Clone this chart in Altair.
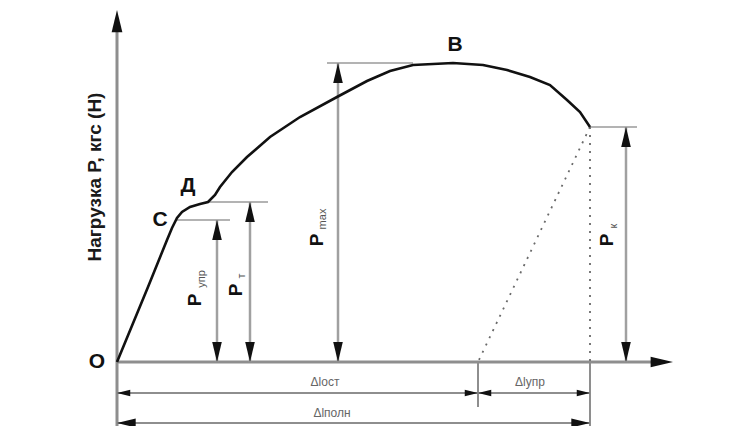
import altair as alt
import pandas as pd

# ---- data (elongation units along x, load units along y; origin at point O) ----
curve_x = [0, 31, 50, 55, 60, 65, 73, 83, 91, 98, 103, 115, 130, 153, 183, 220, 250,
           273, 296, 336, 366, 390, 413, 433, 450, 463, 473]
curve_y = [0, 75, 122, 134, 144, 150, 155, 158, 160, 167, 175, 190, 205, 225, 245, 265,
           281, 291, 297, 299, 297, 292, 285, 277, 262, 250, 235]

load_sub = ["упр", "т", "max", "к"]          # P_упр, P_т, P_max, P_к
load_x = [100, 133, 221, 509]                # where each load is dimensioned
load_level = [142, 160, 299, 235]            # load value
tick_from = [60, 91, 210, 473]               # extension line start (on curve)
tick_to = [113, 151, 296, 520]               # extension line end
p_label_x = [78, 119, 200, 490]
p_label_y = [62, 72, 122, 122]
sub_label_x = [85, 125, 206, 497]
sub_label_y = [83, 86, 143, 136]

point_names = ["O", "C", "Д", "В"]
point_x = [-20, 43, 71, 338]
point_y = [0, 142, 176, 317]

y_axis_top = 352
x_axis_end = 556
residual_end = 361                           # Δl_ост
total_end = 473                              # Δl_полн
dim_rows = [-31, -61]
elong_labels = ["Δlост", "Δlупр", "Δlполн"]
elong_label_x = [208, 413, 215]
elong_label_y = [-20, -20, -51]

xs = alt.Scale(domain=[-109, 609], nice=False, zero=False)
ys = alt.Scale(domain=[-64, 354], nice=False, zero=False)


def X():
    return alt.X("x:Q", scale=xs, axis=None)


def Y():
    return alt.Y("y:Q", scale=ys, axis=None)


def enc_rule():
    return dict(x=X(), x2="x2:Q", y=Y(), y2="y2:Q")


GRAY = "#8e8e8e"

# axes
axes_df = pd.DataFrame({
    "x": [0, 0], "x2": [0, x_axis_end - 10],
    "y": [-80, 0], "y2": [y_axis_top - 10, 0]})
axes = alt.Chart(axes_df).mark_rule(color=GRAY, strokeWidth=3).encode(**enc_rule())

# load dimension lines
vd_df = pd.DataFrame({"x": load_x, "x2": load_x, "y": [0] * 4, "y2": load_level})
vdims = alt.Chart(vd_df).mark_rule(color="#a0a0a0", strokeWidth=2.5).encode(**enc_rule())

# extension ticks
tk_df = pd.DataFrame({"x": tick_from, "x2": tick_to, "y": load_level, "y2": load_level})
ticks = alt.Chart(tk_df).mark_rule(color="#9a9a9a", strokeWidth=1.6).encode(**enc_rule())

# elongation dimension lines
hd_df = pd.DataFrame({
    "x": [0, 0, residual_end, total_end], "x2": [total_end, total_end, residual_end, total_end],
    "y": [dim_rows[0], dim_rows[1], 0, 0], "y2": [dim_rows[0], dim_rows[1], dim_rows[0] - 14, -80]})
hdims = alt.Chart(hd_df).mark_rule(color=GRAY, strokeWidth=2).encode(**enc_rule())

# unloading (dotted) lines
dot_df = pd.DataFrame({"x": [total_end, total_end], "x2": [residual_end, total_end],
                       "y": [load_level[3], load_level[3]], "y2": [0, 0]})
dots = alt.Chart(dot_df).mark_rule(color="#6a6a6a", strokeWidth=1.8, strokeDash=[2, 6]).encode(**enc_rule())

# curve
curve_df = pd.DataFrame({"x": curve_x, "y": curve_y, "i": range(len(curve_x))})
curve = alt.Chart(curve_df).mark_line(color="#111111", strokeWidth=2.6).encode(
    x=X(), y=Y(), order="i:Q")

# arrowheads (tip at the data point)
paths = {
    "up": "M0,0L0.24,1L-0.24,1Z",
    "down": "M0,0L0.24,-1L-0.24,-1Z",
    "left": "M0,0L1,0.24L1,-0.24Z",
    "right": "M0,0L-1,0.24L-1,-0.24Z",
}
shape_scale = alt.Scale(domain=list(paths.keys()), range=list(paths.values()))


def arrow_layer(df, size):
    return alt.Chart(df).mark_point(filled=True, color="#111111", opacity=1, size=size, strokeWidth=0).encode(
        x=X(), y=Y(), shape=alt.Shape("dir:N", scale=shape_scale, legend=None))


va_df = pd.DataFrame({"x": load_x + load_x, "y": load_level + [0] * 4,
                      "dir": ["up"] * 4 + ["down"] * 4})
ax_df = pd.DataFrame({"x": [0, x_axis_end], "y": [y_axis_top, 0], "dir": ["up", "right"]})
d1_df = pd.DataFrame({"x": [0, residual_end, residual_end, total_end], "y": [dim_rows[0]] * 4,
                      "dir": ["left", "right", "left", "right"]})
d2_df = pd.DataFrame({"x": [0, total_end], "y": [dim_rows[1]] * 2, "dir": ["left", "right"]})

# labels
pt_df = pd.DataFrame({"x": point_x, "y": point_y, "t": point_names})
pts = alt.Chart(pt_df).mark_text(fontSize=21, font="Liberation Sans", fontWeight="bold",
                                 color="#111111").encode(x=X(), y=Y(), text="t:N")

p_df = pd.DataFrame({"x": p_label_x, "y": p_label_y, "t": ["P"] * 4})
pl = alt.Chart(p_df).mark_text(fontSize=19, font="Liberation Sans", fontWeight="bold", angle=270,
                               color="#111111").encode(x=X(), y=Y(), text="t:N")
s_df = pd.DataFrame({"x": sub_label_x, "y": sub_label_y, "t": load_sub})
sl = alt.Chart(s_df).mark_text(fontSize=11, font="Liberation Sans", angle=270,
                               color="#555555").encode(x=X(), y=Y(), text="t:N")

title_df = pd.DataFrame({"x": [-22], "y": [185], "t": ["Нагрузка P, кгс (Н)"]})
ytitle = alt.Chart(title_df).mark_text(fontSize=19, font="Liberation Sans", fontWeight="bold", angle=270,
                                       color="#1a1a1a").encode(x=X(), y=Y(), text="t:N")

el_df = pd.DataFrame({"x": elong_label_x, "y": elong_label_y, "t": elong_labels})
el = alt.Chart(el_df).mark_text(fontSize=12, font="Liberation Sans",
                                color="#666666").encode(x=X(), y=Y(), text="t:N")

chart = alt.layer(
    axes, vdims, ticks, hdims, dots, curve,
    arrow_layer(va_df, 1600), arrow_layer(ax_df, 2000), arrow_layer(d1_df, 700), arrow_layer(d2_df, 1400),
    pts, pl, sl, ytitle, el,
).properties(width=718, height=418, padding=0, autosize=alt.AutoSizeParams(type="none")
).configure_view(stroke=None)

chart.save("out.html", embed_options={"renderer": "svg", "actions": False})
